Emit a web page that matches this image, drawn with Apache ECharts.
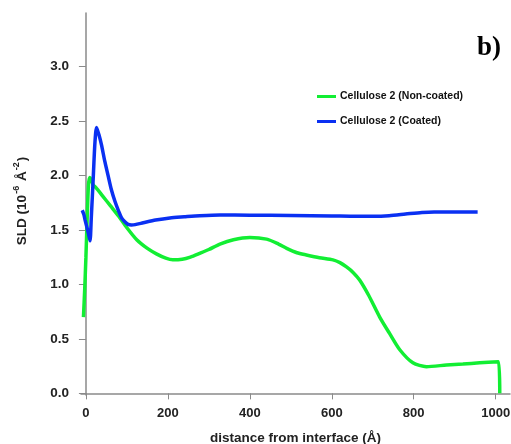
<!DOCTYPE html>
<html>
<head>
<meta charset="utf-8">
<script src="https://cdn.jsdelivr.net/npm/echarts@6/dist/echarts.min.js"></script>
<style>
  html, body { margin: 0; padding: 0; background: #fff; }
  #chart { width: 511px; height: 444px; }
</style>
</head>
<body>
<div id="chart"></div>
<script>
// 数据: distance (Å) 与 SLD (10^-6 Å^-2)
var greenX = [-6, -3, 0, 3, 6, 9, 13, 18, 24, 40, 60, 80, 100, 124, 150, 172, 195, 212, 235, 255, 278, 300, 327, 360, 400, 441, 470, 490, 515, 538, 570, 603, 620, 636, 652, 668, 690, 717, 741, 766, 798, 831, 880, 920, 961, 1007, 1010];
var greenY = [0.70, 0.95, 1.25, 1.60, 1.90, 1.98, 1.96, 1.91, 1.89, 1.815, 1.72, 1.625, 1.52, 1.41, 1.33, 1.28, 1.24, 1.225, 1.23, 1.25, 1.285, 1.32, 1.37, 1.41, 1.43, 1.415, 1.37, 1.33, 1.29, 1.27, 1.245, 1.225, 1.20, 1.16, 1.11, 1.04, 0.90, 0.70, 0.55, 0.40, 0.28, 0.245, 0.26, 0.27, 0.28, 0.29, 0.0];
var blueX = [-9, -5, -2, 2, 6, 10, 13, 18, 22, 26, 32, 38, 46, 54, 62, 71, 80, 87, 95, 103, 111, 120, 140, 170, 205, 240, 278, 327, 400, 500, 600, 660, 700, 740, 780, 820, 850, 900, 956];
var blueY = [1.68, 1.64, 1.59, 1.53, 1.47, 1.40, 1.60, 1.99, 2.30, 2.44, 2.37, 2.28, 2.13, 2.00, 1.87, 1.76, 1.67, 1.61, 1.575, 1.55, 1.545, 1.548, 1.565, 1.59, 1.61, 1.62, 1.63, 1.637, 1.635, 1.632, 1.628, 1.625, 1.625, 1.63, 1.645, 1.66, 1.665, 1.665, 1.665];
var xTicks = [0, 200, 400, 600, 800, 1000];
var yTicks = [0, 0.5, 1.0, 1.5, 2.0, 2.5, 3.0];
var names = ["Cellulose 2 (Non-coated)", "Cellulose 2 (Coated)"];

function pairs(xs, ys) {
  return xs.map(function (x, i) { return [x, ys[i]]; });
}

(function () {
  var myechart = echarts.init(document.getElementById("chart"));
  var axisColor = "#8a8a8a";
  var labelColor = "#222";
  var option = {
    animation: false,
    grid: { left: 81, right: 1, top: 13, bottom: 49, outerBoundsMode: "none" },
    legend: {
      orient: "vertical",
      left: 317,
      top: 90,
      padding: 0,
      icon: "rect",
      itemWidth: 19,
      itemHeight: 3,
      itemGap: 12,
      textStyle: {
        fontFamily: "Liberation Sans",
        fontWeight: "bold",
        fontSize: 10.5,
        lineHeight: 13,
        padding: [0, 0, 0, -1],
        color: "#111",
      },
      data: names,
    },
    xAxis: {
      type: "value",
      min: -12,
      max: 1035,
      name: "distance from interface (Å)",
      nameLocation: "middle",
      nameGap: 36,
      nameTextStyle: { fontFamily: "Liberation Sans", fontWeight: "bold", fontSize: 13.5, color: labelColor },
      axisLine: { lineStyle: { color: axisColor, width: 1.5 } },
      axisTick: { length: 6, customValues: xTicks, lineStyle: { color: axisColor } },
      axisLabel: {
        customValues: xTicks,
        margin: 12,
        fontFamily: "Liberation Sans",
        fontWeight: "bold",
        fontSize: 13,
        color: labelColor,
        formatter: function (v) { return String(v); },
      },
      splitLine: { show: false },
    },
    yAxis: {
      type: "value",
      min: -0.015,
      max: 3.49,
      axisLine: { show: true, lineStyle: { color: axisColor, width: 1.5 } },
      axisTick: { show: true, length: 7, customValues: yTicks, lineStyle: { color: axisColor } },
      axisLabel: {
        customValues: yTicks,
        margin: 12,
        fontFamily: "Liberation Sans",
        fontWeight: "bold",
        fontSize: 13.5,
        color: labelColor,
        formatter: function (v) { return v.toFixed(1); },
      },
      splitLine: { show: false },
    },
    graphic: [
      {
        type: "text",
        x: 22,
        y: 201,
        rotation: Math.PI / 2,
        style: {
          text: "{m|SLD (10}{s|-6}{m| Å}{s|-2}{m|)}",
          align: "center",
          verticalAlign: "middle",
          rich: {
            m: { fontFamily: "Liberation Sans", fontWeight: "bold", fontSize: 13.5, fill: labelColor },
            s: { fontFamily: "Liberation Sans", fontWeight: "bold", fontSize: 9, fill: labelColor, verticalAlign: "top", padding: [0, 1, 11, 1] },
          },
        },
      },
      {
        type: "text",
        x: 489,
        y: 48,
        style: {
          text: "b)",
          align: "center",
          verticalAlign: "middle",
          font: "bold 27px 'Liberation Serif'",
          fill: "#000",
        },
      },
    ],
    series: [
      {
        name: names[0],
        type: "line",
        smooth: 0.25,
        showSymbol: false,
        lineStyle: { color: "#12ee33", width: 3.5 },
        itemStyle: { color: "#12ee33" },
        data: pairs(greenX, greenY),
      },
      {
        name: names[1],
        type: "line",
        smooth: 0.25,
        showSymbol: false,
        lineStyle: { color: "#0a30f2", width: 3.5 },
        itemStyle: { color: "#0a30f2" },
        data: pairs(blueX, blueY),
      },
    ],
  };
  myechart.setOption(option);
  window.addEventListener("resize", function () {
    myechart.resize();
  });
})();
</script>
</body>
</html>
